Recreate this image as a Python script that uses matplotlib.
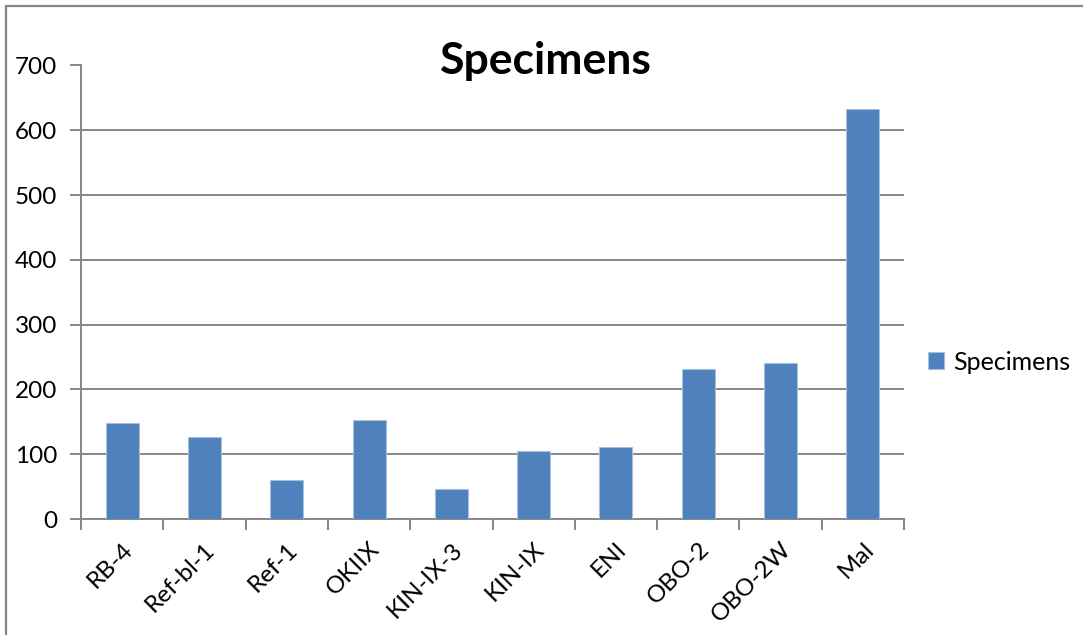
import matplotlib
matplotlib.use("Agg")
import matplotlib.pyplot as plt
from matplotlib.patches import Rectangle
from matplotlib.transforms import ScaledTranslation

# Specimen counts per site
categories = ["RB-4", "Ref-bl-1", "Ref-1", "OKIIX", "KIN-IX-3",
              "KIN-IX", "ENI", "OBO-2", "OBO-2W", "Mal"]
specimens = [148, 127, 60, 153, 46, 105, 111, 231, 241, 633]
y_ticks = [0, 100, 200, 300, 400, 500, 600, 700]
series_name = "Specimens"
chart_title = "Specimens"

W, H, DPI = 1083, 635, 100
plt.rcParams["font.family"] = ["Lato", "DejaVu Sans"]

fig = plt.figure(figsize=(W / DPI, H / DPI), dpi=DPI)
fig.patch.set_facecolor("white")

# outer chart border (only left and top edges fall inside the image)
fig.add_artist(Rectangle((6 / W, -0.5), 2.0, (H - 6) / H + 0.5,
                         transform=fig.transFigure, fill=False,
                         edgecolor="#868686", linewidth=1.6))

left, right, top, bottom = 81, 904, 65.5, 519
ax = fig.add_axes([left / W, (H - bottom) / H, (right - left) / W, (bottom - top) / H])

grid_c = "#868686"
x = list(range(len(categories)))
ax.bar(x, specimens, width=0.4, color="#4F81BD", edgecolor="#A7C0DE",
       linewidth=0.8, zorder=3, label=series_name)

ax.set_xlim(-0.5, len(categories) - 0.5)
ax.set_ylim(0, 700)
ax.set_yticks(y_ticks)
ax.yaxis.grid(True, color=grid_c, linewidth=1.4, zorder=0)
ax.set_axisbelow(True)

for s in ["top", "right"]:
    ax.spines[s].set_visible(False)
for s in ["left", "bottom"]:
    ax.spines[s].set_color(grid_c)
    ax.spines[s].set_linewidth(1.4)

# category boundary ticks on x, labels at centers
ax.set_xticks([i - 0.5 for i in range(len(categories) + 1)])
ax.set_xticklabels([])
ax.set_xticks(x, minor=True)
labels = ax.set_xticklabels(categories, minor=True, rotation=45, ha="right",
                            rotation_mode="anchor", fontsize=17.5)
shift = ScaledTranslation(-6 / DPI, -4 / DPI, fig.dpi_scale_trans)
for lab in labels:
    lab.set_transform(lab.get_transform() + shift)
ax.tick_params(axis="x", which="major", length=8, width=1.4, color=grid_c, direction="out")
ax.tick_params(axis="x", which="minor", length=0, pad=14)
ax.tick_params(axis="y", length=8, width=1.4, color=grid_c, direction="out",
               labelsize=17.5, pad=9)

fig.text(546 / W, 1 - 61 / H, chart_title, ha="center", va="center",
         fontsize=32, fontweight="bold")

leg = ax.legend(loc="center left", bbox_to_anchor=(928 / W, 1 - 362 / H),
                bbox_transform=fig.transFigure, frameon=False, fontsize=18,
                handlelength=0.65, handleheight=0.65, handletextpad=0.35,
                borderpad=0, borderaxespad=0)

fig.savefig("out.png", dpi=DPI, facecolor="white")
